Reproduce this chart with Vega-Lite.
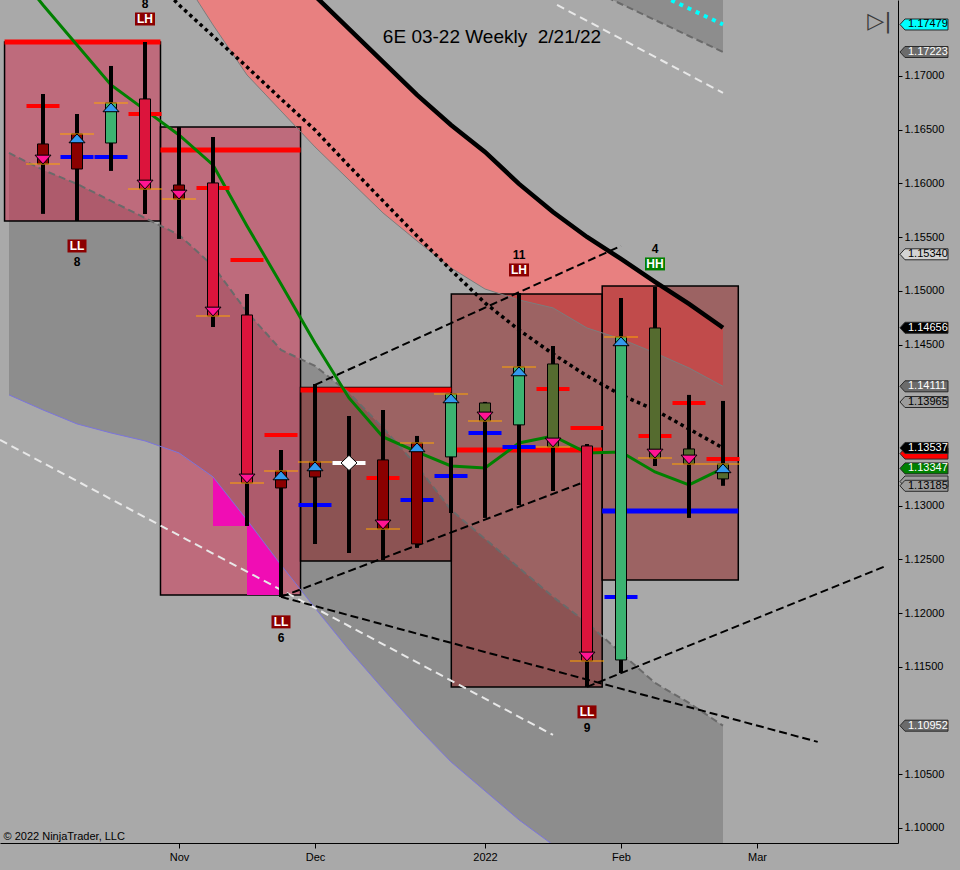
{
 "$schema": "https://vega.github.io/schema/vega-lite/v6.json",
 "width": 898,
 "height": 843,
 "autosize": {"type": "none"},
 "padding": {"left": 0, "top": 0, "right": 62, "bottom": 27},
 "background": "#A9A9A9",
 "title": {"text": "6E 03-22 Weekly\u00a0 2/21/22", "anchor": "middle", "frame": "group", "orient": "top", "offset": -64, "dx": 43, "baseline": "alphabetic", "fontSize": 19, "fontWeight": "normal", "font": "Liberation Sans", "color": "#000000"},
 "config": {
  "view": {"stroke": null},
  "font": "Liberation Sans",
  "axis": {"grid": false, "labelFontSize": 11, "labelColor": "#000000", "labelFont": "Liberation Sans", "tickColor": "#000000", "domainColor": "#000000", "labelOverlap": false, "labelFlush": false},
  "axisX": {"tickSize": 5, "labelPadding": 3},
  "axisY": {"tickSize": 4, "labelPadding": 2}
 },
 "resolve": {"scale": {"color": "independent", "shape": "independent"}},
 "datasets": {
  "bars": [
   {"date": "2021-10-08", "open": 1.16367, "high": 1.16832, "low": 1.15716, "close": 1.16181, "body": "bear2", "signal": "down"},
   {"date": "2021-10-15", "open": 1.16134, "high": 1.16646, "low": 1.15650, "close": 1.16460, "body": "bear2", "signal": "up"},
   {"date": "2021-10-22", "open": 1.16376, "high": 1.17093, "low": 1.16116, "close": 1.16749, "body": "bull", "signal": "up"},
   {"date": "2021-10-29", "open": 1.16786, "high": 1.17316, "low": 1.15716, "close": 1.15948, "body": "bear", "signal": "down"},
   {"date": "2021-11-05", "open": 1.15985, "high": 1.16525, "low": 1.15483, "close": 1.15855, "body": "bear2", "signal": "down"},
   {"date": "2021-11-12", "open": 1.16004, "high": 1.16432, "low": 1.14664, "close": 1.14766, "body": "bear", "signal": "down"},
   {"date": "2021-11-19", "open": 1.14775, "high": 1.14971, "low": 1.12811, "close": 1.13212, "body": "bear", "signal": "down"},
   {"date": "2021-11-26", "open": 1.13165, "high": 1.13519, "low": 1.12151, "close": 1.13323, "body": "bear2", "signal": "up"},
   {"date": "2021-12-03", "open": 1.13267, "high": 1.14133, "low": 1.12644, "close": 1.13407, "body": "bear2", "signal": "up"},
   {"date": "2021-12-10", "open": 1.13398, "high": 1.13835, "low": 1.12560, "close": 1.13398, "body": "doji", "signal": "doji"},
   {"date": "2021-12-17", "open": 1.13426, "high": 1.13891, "low": 1.12495, "close": 1.12784, "body": "bear2", "signal": "down"},
   {"date": "2021-12-24", "open": 1.12644, "high": 1.13649, "low": 1.12607, "close": 1.13584, "body": "bear2", "signal": "up"},
   {"date": "2021-12-31", "open": 1.13454, "high": 1.14040, "low": 1.12932, "close": 1.14040, "body": "bull", "signal": "up"},
   {"date": "2022-01-07", "open": 1.13956, "high": 1.13966, "low": 1.12886, "close": 1.13789, "body": "bull2", "signal": "down"},
   {"date": "2022-01-14", "open": 1.13752, "high": 1.14980, "low": 1.13007, "close": 1.14291, "body": "bull", "signal": "up"},
   {"date": "2022-01-21", "open": 1.14319, "high": 1.14487, "low": 1.13137, "close": 1.13547, "body": "bull2", "signal": "down"},
   {"date": "2022-01-28", "open": 1.13556, "high": 1.13575, "low": 1.11313, "close": 1.11555, "body": "bear", "signal": "down"},
   {"date": "2022-02-04", "open": 1.11564, "high": 1.14934, "low": 1.11443, "close": 1.14571, "body": "bull", "signal": "up"},
   {"date": "2022-02-11", "open": 1.14654, "high": 1.15036, "low": 1.13370, "close": 1.13444, "body": "bull2", "signal": "down"},
   {"date": "2022-02-18", "open": 1.13528, "high": 1.14031, "low": 1.12886, "close": 1.13389, "body": "bull2", "signal": "down"},
   {"date": "2022-02-25", "open": 1.13249, "high": 1.13975, "low": 1.13185, "close": 1.13389, "body": "bull2", "signal": "up"}
  ],
  "levels": [
   {"date": "2021-10-08", "price": 1.16721, "kind": "red"},
   {"date": "2021-10-29", "price": 1.16646, "kind": "red"},
   {"date": "2021-11-12", "price": 1.15958, "kind": "red"},
   {"date": "2021-11-19", "price": 1.15287, "kind": "red"},
   {"date": "2021-11-26", "price": 1.13658, "kind": "red"},
   {"date": "2021-12-17", "price": 1.13258, "kind": "red"},
   {"date": "2022-01-21", "price": 1.14087, "kind": "red"},
   {"date": "2022-01-28", "price": 1.13724, "kind": "red"},
   {"date": "2022-02-11", "price": 1.13649, "kind": "red"},
   {"date": "2022-02-18", "price": 1.13956, "kind": "red"},
   {"date": "2022-02-25", "price": 1.13435, "kind": "red"},
   {"date": "2021-10-15", "price": 1.16246, "kind": "blue"},
   {"date": "2021-10-22", "price": 1.16246, "kind": "blue"},
   {"date": "2021-12-03", "price": 1.13007, "kind": "blue"},
   {"date": "2021-12-24", "price": 1.13053, "kind": "blue"},
   {"date": "2021-12-31", "price": 1.13277, "kind": "blue"},
   {"date": "2022-01-07", "price": 1.13677, "kind": "blue"},
   {"date": "2022-01-14", "price": 1.13547, "kind": "blue"},
   {"date": "2022-02-04", "price": 1.12151, "kind": "blue"}
  ],
  "boxes": [
   {"start": "2021-09-30T02:00:00Z", "end": "2021-11-01T04:30:00Z", "top": 1.17316, "bottom": 1.15650, "tone": "pink"},
   {"start": "2021-11-01T04:30:00Z", "end": "2021-11-30T00:30:00Z", "top": 1.16525, "bottom": 1.12169, "tone": "pink"},
   {"start": "2021-11-30T00:30:00Z", "end": "2021-12-31T01:30:00Z", "top": 1.14101, "bottom": 1.12486, "tone": "brown"},
   {"start": "2021-12-31T01:30:00Z", "end": "2022-01-31T03:00:00Z", "top": 1.14971, "bottom": 1.11313, "tone": "brown"},
   {"start": "2022-01-31T03:00:00Z", "end": "2022-02-28T03:30:00Z", "top": 1.15045, "bottom": 1.12309, "tone": "brown"}
  ],
  "boxLines": [
   {"start": "2021-09-30T02:00:00Z", "end": "2021-11-01T04:30:00Z", "price": 1.17316, "kind": "red"},
   {"start": "2021-11-01T04:30:00Z", "end": "2021-11-30T00:30:00Z", "price": 1.16311, "kind": "red"},
   {"start": "2021-11-30T00:30:00Z", "end": "2021-12-31T01:30:00Z", "price": 1.14077, "kind": "red"},
   {"start": "2022-01-01T04:00:00Z", "end": "2022-01-31T03:00:00Z", "price": 1.13519, "kind": "red"},
   {"start": "2022-01-31T03:00:00Z", "end": "2022-02-28T03:30:00Z", "price": 1.12951, "kind": "blue"}
  ],
  "ind": [
   {"date": "2021-10-01", "sma": 1.18052, "chUp": 1.16283, "chLow": 1.14031},
   {"date": "2021-10-08", "sma": 1.17661, "chUp": 1.16125, "chLow": 1.13891},
   {"date": "2021-10-15", "sma": 1.17289, "chUp": 1.15995, "chLow": 1.13761},
   {"date": "2021-10-22", "sma": 1.16916, "chUp": 1.15837, "chLow": 1.13677},
   {"date": "2021-10-29", "dotted": 1.17987, "sma": 1.16684, "chUp": 1.15678, "chLow": 1.13603},
   {"date": "2021-11-05", "black": 1.19011, "salLow": 1.17968, "dotted": 1.17661, "sma": 1.16451, "chUp": 1.15520, "chLow": 1.13491},
   {"date": "2021-11-12", "black": 1.18685, "salLow": 1.17475, "dotted": 1.17372, "sma": 1.16172, "chUp": 1.15232, "chLow": 1.13268},
   {"date": "2021-11-19", "black": 1.18359, "salLow": 1.17009, "dotted": 1.17084, "sma": 1.15604, "chUp": 1.14803, "chLow": 1.12867},
   {"date": "2021-11-26", "black": 1.18033, "salLow": 1.16674, "dotted": 1.16786, "sma": 1.15064, "chUp": 1.14450, "chLow": 1.12448},
   {"date": "2021-12-03", "black": 1.17745, "salLow": 1.16339, "dotted": 1.16497, "sma": 1.14515, "chUp": 1.14301, "chLow": 1.12048},
   {"date": "2021-12-10", "black": 1.17438, "salLow": 1.16032, "dotted": 1.16162, "sma": 1.14003, "chUp": 1.14049, "chLow": 1.11657},
   {"date": "2021-12-17", "black": 1.17130, "salLow": 1.15725, "dotted": 1.15837, "sma": 1.13640, "chUp": 1.13724, "chLow": 1.11294},
   {"date": "2021-12-24", "black": 1.16823, "salLow": 1.15464, "dotted": 1.15511, "sma": 1.13500, "chUp": 1.13370, "chLow": 1.10941},
   {"date": "2021-12-31", "black": 1.16544, "salLow": 1.15213, "dotted": 1.15194, "sma": 1.13370, "chUp": 1.12960, "chLow": 1.10615},
   {"date": "2022-01-07", "black": 1.16293, "salLow": 1.15017, "dotted": 1.14887, "sma": 1.13351, "chUp": 1.12690, "chLow": 1.10345},
   {"date": "2022-01-14", "black": 1.15995, "salLow": 1.14915, "dotted": 1.14636, "sma": 1.13584, "chUp": 1.12421, "chLow": 1.10075},
   {"date": "2022-01-21", "black": 1.15734, "salLow": 1.14841, "dotted": 1.14412, "sma": 1.13649, "chUp": 1.12151, "chLow": 1.09842},
   {"date": "2022-01-28", "black": 1.15501, "salLow": 1.14654, "dotted": 1.14208, "sma": 1.13491, "chUp": 1.11909, "chLow": 1.09563, "chUp2": 1.17819},
   {"date": "2022-02-04", "black": 1.15297, "salLow": 1.14552, "dotted": 1.14031, "sma": 1.13500, "chUp": 1.11629, "chLow": 1.09284, "chUp2": 1.17670},
   {"date": "2022-02-11", "black": 1.15083, "salLow": 1.14422, "dotted": 1.13891, "sma": 1.13314, "chUp": 1.11350, "chLow": 1.09004, "chUp2": 1.17521, "cyan": 1.17777},
   {"date": "2022-02-18", "black": 1.14878, "salLow": 1.14282, "dotted": 1.13714, "sma": 1.13193, "chUp": 1.11164, "chLow": 1.08725, "chUp2": 1.17372, "cyan": 1.17628},
   {"date": "2022-02-25", "black": 1.14656, "salLow": 1.14111, "dotted": 1.13537, "sma": 1.13347, "chUp": 1.10952, "chLow": 1.08446, "chUp2": 1.17223, "cyan": 1.17479}
  ],
  "magenta": [
   {"seg": 1, "date": "2021-11-12", "top": 1.13268, "bottom": 1.12811},
   {"seg": 1, "date": "2021-11-19", "top": 1.12867, "bottom": 1.12811},
   {"seg": 2, "date": "2021-11-19", "top": 1.12867, "bottom": 1.12169},
   {"seg": 2, "date": "2021-11-26", "top": 1.12448, "bottom": 1.12169}
  ],
  "trend": [
   {"line": "L1", "kind": "black", "date": "2021-12-03", "price": 1.14124},
   {"line": "L1", "kind": "black", "date": "2022-02-04", "price": 1.15418},
   {"line": "L2", "kind": "black", "date": "2021-11-26", "price": 1.12151},
   {"line": "L2", "kind": "black", "date": "2022-01-28", "price": 1.13230},
   {"line": "L3", "kind": "black", "date": "2021-11-26", "price": 1.12151},
   {"line": "L3", "kind": "black", "date": "2022-03-16T12:00:00Z", "price": 1.10801},
   {"line": "L4", "kind": "black", "date": "2022-01-28", "price": 1.11313},
   {"line": "L4", "kind": "black", "date": "2022-03-30T02:00:00Z", "price": 1.12430},
   {"line": "W1", "kind": "white", "date": "2021-09-29T03:30:00Z", "price": 1.13612},
   {"line": "W1", "kind": "white", "date": "2022-01-21", "price": 1.10866},
   {"line": "W2", "kind": "white", "date": "2022-01-21T20:00:00Z", "price": 1.17661},
   {"line": "W2", "kind": "white", "date": "2022-02-25", "price": 1.16842}
  ],
  "labels": [
   {"date": "2021-10-29", "price": 1.17316, "kind": "LH", "count": "8", "pos": "above"},
   {"date": "2021-10-15", "price": 1.15650, "kind": "LL", "count": "8", "pos": "below"},
   {"date": "2021-11-26", "price": 1.12151, "kind": "LL", "count": "6", "pos": "below"},
   {"date": "2022-01-14", "price": 1.14980, "kind": "LH", "count": "11", "pos": "above"},
   {"date": "2022-02-11", "price": 1.15036, "kind": "HH", "count": "4", "pos": "above"},
   {"date": "2022-01-28", "price": 1.11313, "kind": "LL", "count": "9", "pos": "below"}
  ],
  "tags": [
   {"price": 1.17479, "style": "cyan"},
   {"price": 1.17223, "style": "dim"},
   {"price": 1.15340, "style": "light"},
   {"price": 1.14656, "style": "black"},
   {"price": 1.14111, "style": "dim"},
   {"price": 1.13965, "style": "gray"},
   {"price": 1.13225, "style": "gray"},
   {"price": 1.13485, "style": "red"},
   {"price": 1.13537, "style": "black"},
   {"price": 1.13347, "style": "green"},
   {"price": 1.13185, "style": "gray"},
   {"price": 1.10952, "style": "dim"}
  ]
 },
 "layer": [
  {
   "data": {"name": "ind"},
   "transform": [{"filter": "isValid(datum.chUp)"}],
   "mark": {"type": "area", "fill": "#000000", "fillOpacity": 0.16, "clip": true},
   "encoding": {
    "x": {"field": "date", "type": "temporal", "scale": {"type": "utc", "nice": false, "padding": 0, "domain": [{"year": 2021, "month": 9, "date": 29, "hours": 3, "minutes": 30, "utc": true}, {"year": 2022, "month": 4, "date": 2, "hours": 0, "minutes": 42, "utc": true}]},
     "axis": {"values": [{"year": 2021, "month": 11, "date": 5, "utc": true}, {"year": 2021, "month": 12, "date": 3, "utc": true}, {"year": 2022, "month": 1, "date": 7, "utc": true}, {"year": 2022, "month": 2, "date": 4, "utc": true}, {"year": 2022, "month": 3, "date": 4, "utc": true}],
      "labelExpr": "utcFormat(datum.value, '%m') == '01' ? utcFormat(datum.value, '%Y') : utcFormat(datum.value, '%b')",
      "title": "© 2022 NinjaTrader, LLC", "titleX": 3, "titleY": -4, "titleAlign": "left", "titleBaseline": "alphabetic", "titleFontSize": 11, "titleFontWeight": "normal", "titleColor": "#000000", "titleFont": "Liberation Sans"}},
    "y": {"field": "chUp", "type": "quantitative", "scale": {"domain": [1.0986, 1.17707], "nice": false, "zero": false},
     "axis": {"orient": "right", "values": [1.1, 1.105, 1.115, 1.12, 1.125, 1.13, 1.145, 1.15, 1.155, 1.16, 1.165, 1.17], "format": ".5f",
      "title": "▷|", "titleX": -19, "titleY": 20, "titleAngle": 0, "titleAlign": "center", "titleBaseline": "middle", "titleFontSize": 22, "titleFont": "DejaVu Sans", "titleFontWeight": "normal", "titleColor": "#3a3a3a"}},
    "y2": {"field": "chLow"}
   }
  },
  {
   "data": {"name": "ind"},
   "transform": [{"filter": "isValid(datum.chUp2)"}],
   "mark": {"type": "area", "fill": "#000000", "fillOpacity": 0.16, "clip": true},
   "encoding": {
    "x": {"field": "date", "type": "temporal", "scale": {"type": "utc", "nice": false, "padding": 0, "domain": [{"year": 2021, "month": 9, "date": 29, "hours": 3, "minutes": 30, "utc": true}, {"year": 2022, "month": 4, "date": 2, "hours": 0, "minutes": 42, "utc": true}]}},
    "y": {"field": "chUp2", "type": "quantitative", "scale": {"domain": [1.0986, 1.17707], "nice": false, "zero": false}},
    "y2": {"datum": 1.17707}
   }
  },
  {
   "data": {"name": "ind"},
   "transform": [{"filter": "isValid(datum.black)"}],
   "mark": {"type": "area", "fill": "#E88080", "clip": true},
   "encoding": {
    "x": {"field": "date", "type": "temporal", "scale": {"type": "utc", "nice": false, "padding": 0, "domain": [{"year": 2021, "month": 9, "date": 29, "hours": 3, "minutes": 30, "utc": true}, {"year": 2022, "month": 4, "date": 2, "hours": 0, "minutes": 42, "utc": true}]}},
    "y": {"field": "black", "type": "quantitative", "scale": {"domain": [1.0986, 1.17707], "nice": false, "zero": false}},
    "y2": {"field": "salLow"}
   }
  },
  {
   "data": {"name": "boxes"},
   "mark": {"type": "rect", "fillOpacity": 0.41, "stroke": "#000000", "strokeWidth": 1.5},
   "encoding": {
    "x": {"field": "start", "type": "temporal", "scale": {"type": "utc", "nice": false, "padding": 0, "domain": [{"year": 2021, "month": 9, "date": 29, "hours": 3, "minutes": 30, "utc": true}, {"year": 2022, "month": 4, "date": 2, "hours": 0, "minutes": 42, "utc": true}]}},
    "x2": {"field": "end"},
    "y": {"field": "top", "type": "quantitative", "scale": {"domain": [1.0986, 1.17707], "nice": false, "zero": false}},
    "y2": {"field": "bottom"},
    "color": {"field": "tone", "type": "nominal", "scale": {"domain": ["pink", "brown"], "range": ["#DC143C", "#8B0000"]}, "legend": null}
   }
  },
  {
   "data": {"name": "magenta"},
   "mark": {"type": "area", "fill": "#F00DB4", "clip": true},
   "encoding": {
    "x": {"field": "date", "type": "temporal", "scale": {"type": "utc", "nice": false, "padding": 0, "domain": [{"year": 2021, "month": 9, "date": 29, "hours": 3, "minutes": 30, "utc": true}, {"year": 2022, "month": 4, "date": 2, "hours": 0, "minutes": 42, "utc": true}]}},
    "y": {"field": "top", "type": "quantitative", "scale": {"domain": [1.0986, 1.17707], "nice": false, "zero": false}},
    "y2": {"field": "bottom"},
    "detail": {"field": "seg", "type": "nominal"}
   }
  },
  {
   "data": {"name": "boxLines"},
   "mark": {"type": "rule", "strokeWidth": 5},
   "encoding": {
    "x": {"field": "start", "type": "temporal", "scale": {"type": "utc", "nice": false, "padding": 0, "domain": [{"year": 2021, "month": 9, "date": 29, "hours": 3, "minutes": 30, "utc": true}, {"year": 2022, "month": 4, "date": 2, "hours": 0, "minutes": 42, "utc": true}]}},
    "x2": {"field": "end"},
    "y": {"field": "price", "type": "quantitative", "scale": {"domain": [1.0986, 1.17707], "nice": false, "zero": false}},
    "color": {"field": "kind", "type": "nominal", "scale": {"domain": ["red", "blue"], "range": ["#FF0000", "#0000FF"]}, "legend": null}
   }
  },
  {
   "data": {"name": "ind"},
   "transform": [{"filter": "isValid(datum.salLow)"}],
   "mark": {"type": "line", "stroke": "#7C7C7C", "strokeWidth": 1, "clip": true},
   "encoding": {"x": {"field": "date", "type": "temporal", "scale": {"type": "utc", "nice": false, "padding": 0, "domain": [{"year": 2021, "month": 9, "date": 29, "hours": 3, "minutes": 30, "utc": true}, {"year": 2022, "month": 4, "date": 2, "hours": 0, "minutes": 42, "utc": true}]}}, "y": {"field": "salLow", "type": "quantitative", "scale": {"domain": [1.0986, 1.17707], "nice": false, "zero": false}}}
  },
  {
   "data": {"name": "ind"},
   "transform": [{"filter": "isValid(datum.chLow)"}],
   "mark": {"type": "line", "stroke": "#7B74DC", "strokeWidth": 1, "clip": true},
   "encoding": {"x": {"field": "date", "type": "temporal", "scale": {"type": "utc", "nice": false, "padding": 0, "domain": [{"year": 2021, "month": 9, "date": 29, "hours": 3, "minutes": 30, "utc": true}, {"year": 2022, "month": 4, "date": 2, "hours": 0, "minutes": 42, "utc": true}]}}, "y": {"field": "chLow", "type": "quantitative", "scale": {"domain": [1.0986, 1.17707], "nice": false, "zero": false}}}
  },
  {
   "data": {"name": "ind"},
   "transform": [{"filter": "isValid(datum.chUp)"}],
   "mark": {"type": "line", "stroke": "#6A6A6A", "strokeWidth": 2, "strokeDash": [7, 4], "clip": true},
   "encoding": {"x": {"field": "date", "type": "temporal", "scale": {"type": "utc", "nice": false, "padding": 0, "domain": [{"year": 2021, "month": 9, "date": 29, "hours": 3, "minutes": 30, "utc": true}, {"year": 2022, "month": 4, "date": 2, "hours": 0, "minutes": 42, "utc": true}]}}, "y": {"field": "chUp", "type": "quantitative", "scale": {"domain": [1.0986, 1.17707], "nice": false, "zero": false}}}
  },
  {
   "data": {"name": "ind"},
   "transform": [{"filter": "isValid(datum.chUp2)"}],
   "mark": {"type": "line", "stroke": "#6A6A6A", "strokeWidth": 2, "strokeDash": [7, 4], "clip": true},
   "encoding": {"x": {"field": "date", "type": "temporal", "scale": {"type": "utc", "nice": false, "padding": 0, "domain": [{"year": 2021, "month": 9, "date": 29, "hours": 3, "minutes": 30, "utc": true}, {"year": 2022, "month": 4, "date": 2, "hours": 0, "minutes": 42, "utc": true}]}}, "y": {"field": "chUp2", "type": "quantitative", "scale": {"domain": [1.0986, 1.17707], "nice": false, "zero": false}}}
  },
  {
   "data": {"name": "ind"},
   "transform": [{"filter": "isValid(datum.cyan)"}],
   "mark": {"type": "line", "stroke": "#00FFFF", "strokeWidth": 4, "strokeDash": [4, 5], "clip": true},
   "encoding": {"x": {"field": "date", "type": "temporal", "scale": {"type": "utc", "nice": false, "padding": 0, "domain": [{"year": 2021, "month": 9, "date": 29, "hours": 3, "minutes": 30, "utc": true}, {"year": 2022, "month": 4, "date": 2, "hours": 0, "minutes": 42, "utc": true}]}}, "y": {"field": "cyan", "type": "quantitative", "scale": {"domain": [1.0986, 1.17707], "nice": false, "zero": false}}}
  },
  {
   "data": {"name": "ind"},
   "transform": [{"filter": "isValid(datum.dotted)"}],
   "mark": {"type": "line", "stroke": "#000000", "strokeWidth": 3.5, "strokeDash": [3.5, 3.5], "clip": true},
   "encoding": {"x": {"field": "date", "type": "temporal", "scale": {"type": "utc", "nice": false, "padding": 0, "domain": [{"year": 2021, "month": 9, "date": 29, "hours": 3, "minutes": 30, "utc": true}, {"year": 2022, "month": 4, "date": 2, "hours": 0, "minutes": 42, "utc": true}]}}, "y": {"field": "dotted", "type": "quantitative", "scale": {"domain": [1.0986, 1.17707], "nice": false, "zero": false}}}
  },
  {
   "data": {"name": "ind"},
   "transform": [{"filter": "isValid(datum.black)"}],
   "mark": {"type": "line", "stroke": "#000000", "strokeWidth": 4.5, "clip": true},
   "encoding": {"x": {"field": "date", "type": "temporal", "scale": {"type": "utc", "nice": false, "padding": 0, "domain": [{"year": 2021, "month": 9, "date": 29, "hours": 3, "minutes": 30, "utc": true}, {"year": 2022, "month": 4, "date": 2, "hours": 0, "minutes": 42, "utc": true}]}}, "y": {"field": "black", "type": "quantitative", "scale": {"domain": [1.0986, 1.17707], "nice": false, "zero": false}}}
  },
  {
   "data": {"name": "ind"},
   "transform": [{"filter": "isValid(datum.sma)"}],
   "mark": {"type": "line", "stroke": "#008000", "strokeWidth": 3, "clip": true},
   "encoding": {"x": {"field": "date", "type": "temporal", "scale": {"type": "utc", "nice": false, "padding": 0, "domain": [{"year": 2021, "month": 9, "date": 29, "hours": 3, "minutes": 30, "utc": true}, {"year": 2022, "month": 4, "date": 2, "hours": 0, "minutes": 42, "utc": true}]}}, "y": {"field": "sma", "type": "quantitative", "scale": {"domain": [1.0986, 1.17707], "nice": false, "zero": false}}}
  },
  {
   "data": {"name": "trend"},
   "transform": [{"filter": "datum.kind == 'white'"}],
   "mark": {"type": "line", "stroke": "#E8E8E8", "strokeWidth": 2, "strokeDash": [8, 5], "clip": true},
   "encoding": {"x": {"field": "date", "type": "temporal", "scale": {"type": "utc", "nice": false, "padding": 0, "domain": [{"year": 2021, "month": 9, "date": 29, "hours": 3, "minutes": 30, "utc": true}, {"year": 2022, "month": 4, "date": 2, "hours": 0, "minutes": 42, "utc": true}]}}, "y": {"field": "price", "type": "quantitative", "scale": {"domain": [1.0986, 1.17707], "nice": false, "zero": false}}, "detail": {"field": "line", "type": "nominal"}}
  },
  {
   "data": {"name": "trend"},
   "transform": [{"filter": "datum.kind == 'black'"}],
   "mark": {"type": "line", "stroke": "#000000", "strokeWidth": 2, "strokeDash": [8, 4], "clip": true},
   "encoding": {"x": {"field": "date", "type": "temporal", "scale": {"type": "utc", "nice": false, "padding": 0, "domain": [{"year": 2021, "month": 9, "date": 29, "hours": 3, "minutes": 30, "utc": true}, {"year": 2022, "month": 4, "date": 2, "hours": 0, "minutes": 42, "utc": true}]}}, "y": {"field": "price", "type": "quantitative", "scale": {"domain": [1.0986, 1.17707], "nice": false, "zero": false}}, "detail": {"field": "line", "type": "nominal"}}
  },
  {
   "data": {"name": "levels"},
   "mark": {"type": "tick", "orient": "horizontal", "size": 33, "thickness": 4, "opacity": 1},
   "encoding": {
    "x": {"field": "date", "type": "temporal", "scale": {"type": "utc", "nice": false, "padding": 0, "domain": [{"year": 2021, "month": 9, "date": 29, "hours": 3, "minutes": 30, "utc": true}, {"year": 2022, "month": 4, "date": 2, "hours": 0, "minutes": 42, "utc": true}]}},
    "y": {"field": "price", "type": "quantitative", "scale": {"domain": [1.0986, 1.17707], "nice": false, "zero": false}},
    "color": {"field": "kind", "type": "nominal", "scale": {"domain": ["red", "blue"], "range": ["#FF0000", "#0000FF"]}, "legend": null}
   }
  },
  {
   "data": {"name": "bars"},
   "mark": {"type": "rule", "stroke": "#000000", "strokeWidth": 4},
   "encoding": {
    "x": {"field": "date", "type": "temporal", "scale": {"type": "utc", "nice": false, "padding": 0, "domain": [{"year": 2021, "month": 9, "date": 29, "hours": 3, "minutes": 30, "utc": true}, {"year": 2022, "month": 4, "date": 2, "hours": 0, "minutes": 42, "utc": true}]}},
    "y": {"field": "low", "type": "quantitative", "scale": {"domain": [1.0986, 1.17707], "nice": false, "zero": false}},
    "y2": {"field": "high"}
   }
  },
  {
   "data": {"name": "bars"},
   "transform": [{"filter": "datum.body != 'doji'"}],
   "mark": {"type": "bar", "width": 11, "stroke": "#000000", "strokeWidth": 1},
   "encoding": {
    "x": {"field": "date", "type": "temporal", "scale": {"type": "utc", "nice": false, "padding": 0, "domain": [{"year": 2021, "month": 9, "date": 29, "hours": 3, "minutes": 30, "utc": true}, {"year": 2022, "month": 4, "date": 2, "hours": 0, "minutes": 42, "utc": true}]}},
    "y": {"field": "open", "type": "quantitative", "scale": {"domain": [1.0986, 1.17707], "nice": false, "zero": false}},
    "y2": {"field": "close"},
    "color": {"field": "body", "type": "nominal", "scale": {"domain": ["bull", "bull2", "bear", "bear2"], "range": ["#3CB371", "#556B2F", "#DC143C", "#8B0000"]}, "legend": null}
   }
  },
  {
   "data": {"name": "bars"},
   "transform": [{"filter": "datum.signal != 'doji'"}],
   "mark": {"type": "tick", "orient": "horizontal", "size": 34, "thickness": 1, "color": "#FFA500", "opacity": 1},
   "encoding": {
    "x": {"field": "date", "type": "temporal", "scale": {"type": "utc", "nice": false, "padding": 0, "domain": [{"year": 2021, "month": 9, "date": 29, "hours": 3, "minutes": 30, "utc": true}, {"year": 2022, "month": 4, "date": 2, "hours": 0, "minutes": 42, "utc": true}]}},
    "y": {"field": "close", "type": "quantitative", "scale": {"domain": [1.0986, 1.17707], "nice": false, "zero": false}}
   }
  },
  {
   "data": {"name": "bars"},
   "transform": [{"filter": "datum.signal == 'doji'"}],
   "mark": {"type": "tick", "orient": "horizontal", "size": 33, "thickness": 4, "color": "#FFFFFF", "opacity": 1},
   "encoding": {
    "x": {"field": "date", "type": "temporal", "scale": {"type": "utc", "nice": false, "padding": 0, "domain": [{"year": 2021, "month": 9, "date": 29, "hours": 3, "minutes": 30, "utc": true}, {"year": 2022, "month": 4, "date": 2, "hours": 0, "minutes": 42, "utc": true}]}},
    "y": {"field": "close", "type": "quantitative", "scale": {"domain": [1.0986, 1.17707], "nice": false, "zero": false}}
   }
  },
  {
   "data": {"name": "bars"},
   "mark": {"type": "point", "filled": true, "size": 256, "stroke": "#000000", "strokeWidth": 1, "opacity": 1},
   "encoding": {
    "x": {"field": "date", "type": "temporal", "scale": {"type": "utc", "nice": false, "padding": 0, "domain": [{"year": 2021, "month": 9, "date": 29, "hours": 3, "minutes": 30, "utc": true}, {"year": 2022, "month": 4, "date": 2, "hours": 0, "minutes": 42, "utc": true}]}},
    "y": {"field": "close", "type": "quantitative", "scale": {"domain": [1.0986, 1.17707], "nice": false, "zero": false}},
    "shape": {"field": "signal", "type": "nominal", "scale": {"domain": ["up", "down", "doji"], "range": ["M 0 0 L 1 1.1 L -1 1.1 Z", "M 0 0 L 1 -1.1 L -1 -1.1 Z", "M 0 -0.95 L 1 0 L 0 0.95 L -1 0 Z"]}, "legend": null},
    "color": {"field": "signal", "type": "nominal", "scale": {"domain": ["up", "down", "doji"], "range": ["#3399EE", "#FF1493", "#FFFFFF"]}, "legend": null}
   }
  },
  {
   "data": {"name": "labels"},
   "transform": [{"filter": "datum.pos == 'below'"}],
   "mark": {"type": "point", "filled": true, "size": 4, "opacity": 1, "shape": "M -9.5 18.5 L 9.5 18.5 L 9.5 31.5 L -9.5 31.5 Z"},
   "encoding": {
    "x": {"field": "date", "type": "temporal", "scale": {"type": "utc", "nice": false, "padding": 0, "domain": [{"year": 2021, "month": 9, "date": 29, "hours": 3, "minutes": 30, "utc": true}, {"year": 2022, "month": 4, "date": 2, "hours": 0, "minutes": 42, "utc": true}]}},
    "y": {"field": "price", "type": "quantitative", "scale": {"domain": [1.0986, 1.17707], "nice": false, "zero": false}},
    "color": {"field": "kind", "type": "nominal", "scale": {"domain": ["LL", "LH", "HH"], "range": ["#8B0000", "#8B0000", "#008000"]}, "legend": null}
   }
  },
  {
   "data": {"name": "labels"},
   "transform": [{"filter": "datum.pos == 'above'"}],
   "mark": {"type": "point", "filled": true, "size": 4, "opacity": 1, "shape": "M -10 -29.5 L 10 -29.5 L 10 -16.5 L -10 -16.5 Z"},
   "encoding": {
    "x": {"field": "date", "type": "temporal", "scale": {"type": "utc", "nice": false, "padding": 0, "domain": [{"year": 2021, "month": 9, "date": 29, "hours": 3, "minutes": 30, "utc": true}, {"year": 2022, "month": 4, "date": 2, "hours": 0, "minutes": 42, "utc": true}]}},
    "y": {"field": "price", "type": "quantitative", "scale": {"domain": [1.0986, 1.17707], "nice": false, "zero": false}},
    "color": {"field": "kind", "type": "nominal", "scale": {"domain": ["LL", "LH", "HH"], "range": ["#8B0000", "#8B0000", "#008000"]}, "legend": null}
   }
  },
  {
   "data": {"name": "labels"},
   "transform": [{"filter": "datum.pos == 'below'"}],
   "mark": {"type": "text", "dy": 25, "fontSize": 12, "fontWeight": "bold", "color": "#FFFFFF", "baseline": "middle", "font": "Liberation Sans"},
   "encoding": {
    "x": {"field": "date", "type": "temporal", "scale": {"type": "utc", "nice": false, "padding": 0, "domain": [{"year": 2021, "month": 9, "date": 29, "hours": 3, "minutes": 30, "utc": true}, {"year": 2022, "month": 4, "date": 2, "hours": 0, "minutes": 42, "utc": true}]}},
    "y": {"field": "price", "type": "quantitative", "scale": {"domain": [1.0986, 1.17707], "nice": false, "zero": false}},
    "text": {"field": "kind", "type": "nominal"}
   }
  },
  {
   "data": {"name": "labels"},
   "transform": [{"filter": "datum.pos == 'above'"}],
   "mark": {"type": "text", "dy": -23, "fontSize": 12, "fontWeight": "bold", "color": "#FFFFFF", "baseline": "middle", "font": "Liberation Sans"},
   "encoding": {
    "x": {"field": "date", "type": "temporal", "scale": {"type": "utc", "nice": false, "padding": 0, "domain": [{"year": 2021, "month": 9, "date": 29, "hours": 3, "minutes": 30, "utc": true}, {"year": 2022, "month": 4, "date": 2, "hours": 0, "minutes": 42, "utc": true}]}},
    "y": {"field": "price", "type": "quantitative", "scale": {"domain": [1.0986, 1.17707], "nice": false, "zero": false}},
    "text": {"field": "kind", "type": "nominal"}
   }
  },
  {
   "data": {"name": "labels"},
   "transform": [{"filter": "datum.pos == 'below'"}],
   "mark": {"type": "text", "dy": 41, "fontSize": 12, "fontWeight": "bold", "color": "#000000", "baseline": "middle", "font": "Liberation Sans"},
   "encoding": {
    "x": {"field": "date", "type": "temporal", "scale": {"type": "utc", "nice": false, "padding": 0, "domain": [{"year": 2021, "month": 9, "date": 29, "hours": 3, "minutes": 30, "utc": true}, {"year": 2022, "month": 4, "date": 2, "hours": 0, "minutes": 42, "utc": true}]}},
    "y": {"field": "price", "type": "quantitative", "scale": {"domain": [1.0986, 1.17707], "nice": false, "zero": false}},
    "text": {"field": "count", "type": "nominal"}
   }
  },
  {
   "data": {"name": "labels"},
   "transform": [{"filter": "datum.pos == 'above'"}],
   "mark": {"type": "text", "dy": -38, "fontSize": 12, "fontWeight": "bold", "color": "#000000", "baseline": "middle", "font": "Liberation Sans"},
   "encoding": {
    "x": {"field": "date", "type": "temporal", "scale": {"type": "utc", "nice": false, "padding": 0, "domain": [{"year": 2021, "month": 9, "date": 29, "hours": 3, "minutes": 30, "utc": true}, {"year": 2022, "month": 4, "date": 2, "hours": 0, "minutes": 42, "utc": true}]}},
    "y": {"field": "price", "type": "quantitative", "scale": {"domain": [1.0986, 1.17707], "nice": false, "zero": false}},
    "text": {"field": "count", "type": "nominal"}
   }
  },
  {
   "data": {"name": "tags"},
   "mark": {"type": "point", "filled": true, "size": 4, "opacity": 1, "stroke": "#2a2a2a", "strokeWidth": 1, "shape": "M 0 0 L 5 -5.5 L 48 -5.5 L 48 5.5 L 5 5.5 Z"},
   "encoding": {
    "x": {"datum": {"year": 2022, "month": 4, "date": 2, "hours": 10, "minutes": 30, "utc": true}, "type": "temporal", "scale": {"type": "utc", "nice": false, "padding": 0, "domain": [{"year": 2021, "month": 9, "date": 29, "hours": 3, "minutes": 30, "utc": true}, {"year": 2022, "month": 4, "date": 2, "hours": 0, "minutes": 42, "utc": true}]}},
    "y": {"field": "price", "type": "quantitative", "scale": {"domain": [1.0986, 1.17707], "nice": false, "zero": false}},
    "color": {"field": "style", "type": "nominal", "scale": {"domain": ["cyan", "dim", "light", "black", "gray", "red", "green"], "range": ["#00FFFF", "#6B6B6B", "#D3D3D3", "#000000", "#9C9C9C", "#FF0000", "#008000"]}, "legend": null}
   }
  },
  {
   "data": {"name": "tags"},
   "transform": [{"filter": "datum.price != 1.13485 && datum.price != 1.13225"}],
   "mark": {"type": "text", "dx": 8, "align": "left", "baseline": "middle", "fontSize": 11, "font": "Liberation Sans"},
   "encoding": {
    "x": {"datum": {"year": 2022, "month": 4, "date": 2, "hours": 10, "minutes": 30, "utc": true}, "type": "temporal", "scale": {"type": "utc", "nice": false, "padding": 0, "domain": [{"year": 2021, "month": 9, "date": 29, "hours": 3, "minutes": 30, "utc": true}, {"year": 2022, "month": 4, "date": 2, "hours": 0, "minutes": 42, "utc": true}]}},
    "y": {"field": "price", "type": "quantitative", "scale": {"domain": [1.0986, 1.17707], "nice": false, "zero": false}},
    "text": {"field": "price", "type": "quantitative", "format": ".5f"},
    "color": {"field": "style", "type": "nominal", "scale": {"domain": ["cyan", "dim", "light", "black", "gray", "red", "green"], "range": ["#000000", "#FFFFFF", "#000000", "#FFFFFF", "#000000", "#FFFFFF", "#FFFFFF"]}, "legend": null}
   }
  }
 ]
}
